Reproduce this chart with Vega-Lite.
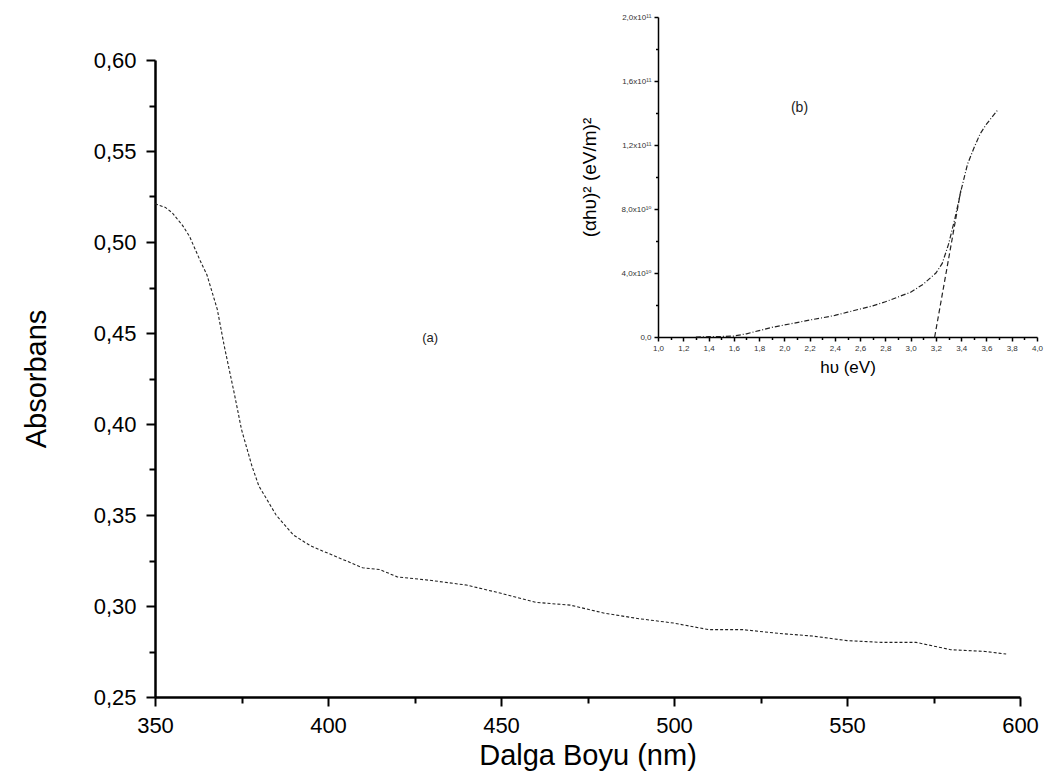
{
  "$schema": "https://vega.github.io/schema/vega-lite/v6.json",
  "width": 865,
  "height": 637,
  "autosize": {"type": "none"},
  "padding": {"left": 155, "top": 60, "right": 27, "bottom": 83},
  "background": "white",
  "config": {
    "view": {"stroke": null},
    "font": "Liberation Sans, DejaVu Sans, Arial",
    "axis": {"grid": false, "domainColor": "black", "tickColor": "black", "labelColor": "black", "titleColor": "black", "titleFontWeight": "normal", "labelFont": "Liberation Sans, DejaVu Sans", "titleFont": "Liberation Sans, DejaVu Sans"}
  },
  "datasets": {
    "main": [
      {"nm": 350, "A": 0.521}, {"nm": 353, "A": 0.519}, {"nm": 355, "A": 0.516}, {"nm": 358, "A": 0.509},
      {"nm": 360, "A": 0.503}, {"nm": 363, "A": 0.490}, {"nm": 365, "A": 0.482}, {"nm": 368, "A": 0.463},
      {"nm": 370, "A": 0.443}, {"nm": 373, "A": 0.416}, {"nm": 375, "A": 0.397}, {"nm": 378, "A": 0.377},
      {"nm": 380, "A": 0.366}, {"nm": 385, "A": 0.350}, {"nm": 390, "A": 0.339}, {"nm": 395, "A": 0.333},
      {"nm": 400, "A": 0.329}, {"nm": 405, "A": 0.325}, {"nm": 410, "A": 0.321}, {"nm": 415, "A": 0.320},
      {"nm": 420, "A": 0.316}, {"nm": 425, "A": 0.315}, {"nm": 430, "A": 0.314}, {"nm": 440, "A": 0.3115},
      {"nm": 450, "A": 0.307}, {"nm": 460, "A": 0.302}, {"nm": 470, "A": 0.3005}, {"nm": 480, "A": 0.296},
      {"nm": 490, "A": 0.293}, {"nm": 500, "A": 0.2906}, {"nm": 510, "A": 0.287}, {"nm": 520, "A": 0.287},
      {"nm": 530, "A": 0.285}, {"nm": 540, "A": 0.2835}, {"nm": 550, "A": 0.281}, {"nm": 560, "A": 0.280},
      {"nm": 570, "A": 0.280}, {"nm": 580, "A": 0.276}, {"nm": 590, "A": 0.275}, {"nm": 596, "A": 0.2736}
    ],
    "inset": [
      {"E": 1.30, "V": 0.0}, {"E": 1.40, "V": 0.002}, {"E": 1.50, "V": 0.003}, {"E": 1.60, "V": 0.006},
      {"E": 1.70, "V": 0.02}, {"E": 1.80, "V": 0.04}, {"E": 1.90, "V": 0.06}, {"E": 2.00, "V": 0.075},
      {"E": 2.10, "V": 0.09}, {"E": 2.20, "V": 0.106}, {"E": 2.30, "V": 0.12}, {"E": 2.40, "V": 0.135},
      {"E": 2.50, "V": 0.155}, {"E": 2.60, "V": 0.175}, {"E": 2.70, "V": 0.195}, {"E": 2.80, "V": 0.22},
      {"E": 2.90, "V": 0.25}, {"E": 3.00, "V": 0.28}, {"E": 3.10, "V": 0.33}, {"E": 3.20, "V": 0.40},
      {"E": 3.25, "V": 0.46}, {"E": 3.30, "V": 0.58}, {"E": 3.35, "V": 0.74}, {"E": 3.40, "V": 0.92},
      {"E": 3.45, "V": 1.08}, {"E": 3.50, "V": 1.18}, {"E": 3.55, "V": 1.27}, {"E": 3.60, "V": 1.33},
      {"E": 3.65, "V": 1.38}, {"E": 3.69, "V": 1.42}
    ],
    "tangent": [{"E": 3.19, "V": 0.0}, {"E": 3.40, "V": 0.93}],
    "labelA": [{"nm": 429.5, "A": 0.447, "t": "(a)"}],
    "labelB": [{"E": 2.12, "V": 1.43, "t": "(b)"}]
  },
  "resolve": {
    "scale": {"x": "independent", "y": "independent"},
    "axis": {"x": "independent", "y": "independent"}
  },
  "layer": [
    {
      "data": {"name": "main"},
      "mark": {"type": "line", "color": "#222", "strokeWidth": 1.1, "strokeDash": [3, 2]},
      "encoding": {
        "x": {"field": "nm", "type": "quantitative",
          "scale": {"domain": [350, 600], "range": [0, 865], "nice": false, "zero": false},
          "axis": {"orient": "bottom", "values": [350, 400, 450, 500, 550, 600], "title": "Dalga Boyu (nm)",
            "titleFontSize": 29, "titlePadding": 5, "labelFontSize": 22, "labelPadding": 9, "tickSize": 9,
            "tickWidth": 2, "domainWidth": 2.5, "labelFlush": false}},
        "y": {"field": "A", "type": "quantitative",
          "scale": {"domain": [0.25, 0.6], "range": [637, 0], "nice": false, "zero": false},
          "axis": {"orient": "left", "values": [0.25, 0.3, 0.35, 0.4, 0.45, 0.5, 0.55, 0.6], "title": "Absorbans",
            "labelExpr": "replace(format(datum.value, '.2f'), '.', ',')",
            "titleFontSize": 29, "titlePadding": 42, "labelFontSize": 22, "labelPadding": 10, "tickSize": 9,
            "tickWidth": 2, "domainWidth": 2.5, "labelFlush": false}}
      }
    },
    {
      "data": {"name": "labelA"},
      "mark": {"type": "text", "fontSize": 13, "color": "#222"},
      "encoding": {
        "x": {"field": "nm", "type": "quantitative",
          "scale": {"domain": [350, 600], "range": [0, 865], "nice": false, "zero": false},
          "axis": {"orient": "bottom", "values": [375, 425, 475, 525, 575], "labels": false, "domain": false,
            "title": null, "tickSize": 6, "tickWidth": 2}},
        "y": {"field": "A", "type": "quantitative",
          "scale": {"domain": [0.25, 0.6], "range": [637, 0], "nice": false, "zero": false},
          "axis": {"orient": "left", "values": [0.275, 0.325, 0.375, 0.425, 0.475, 0.525, 0.575], "labels": false,
            "domain": false, "title": null, "tickSize": 6, "tickWidth": 2}},
        "text": {"field": "t"}
      }
    },
    {
      "data": {"name": "inset"},
      "mark": {"type": "line", "color": "#222", "strokeWidth": 1.2, "strokeDash": [5, 2, 1, 2]},
      "encoding": {
        "x": {"field": "E", "type": "quantitative",
          "scale": {"domain": [1, 4], "range": [503, 882], "nice": false, "zero": false},
          "axis": {"orient": "bottom", "offset": -360,
            "values": [1.0, 1.2, 1.4, 1.6, 1.8, 2.0, 2.2, 2.4, 2.6, 2.8, 3.0, 3.2, 3.4, 3.6, 3.8, 4.0],
            "labelExpr": "replace(format(datum.value, '.1f'), '.', ',')",
            "title": "hυ (eV)", "titleFontSize": 17, "titlePadding": 7,
            "labelFontSize": 8, "labelColor": "#333", "labelPadding": 3, "tickSize": 4, "tickWidth": 1.5,
            "domainWidth": 1.5, "labelFlush": false}},
        "y": {"field": "V", "type": "quantitative",
          "scale": {"domain": [0, 2], "range": [277, -43], "nice": false, "zero": false},
          "axis": {"orient": "left", "offset": -503, "values": [0, 0.4, 0.8, 1.2, 1.6, 2.0],
            "labelExpr": "datum.value == 0 ? '0,0' : (datum.value < 1 ? replace(format(datum.value * 10, '.1f'), '.', ',') + 'x10¹⁰' : replace(format(datum.value, '.1f'), '.', ',') + 'x10¹¹')",
            "title": "(αhυ)² (eV/m)²", "titleFontSize": 19, "titlePadding": 22,
            "labelFontSize": 8, "labelColor": "#333", "labelPadding": 3, "tickSize": 4, "tickWidth": 1.5,
            "domainWidth": 1.5, "labelFlush": false}}
      }
    },
    {
      "data": {"name": "tangent"},
      "mark": {"type": "line", "color": "#222", "strokeWidth": 1.2, "strokeDash": [5, 3]},
      "encoding": {
        "x": {"field": "E", "type": "quantitative",
          "scale": {"domain": [1, 4], "range": [503, 882], "nice": false, "zero": false}, "axis": null},
        "y": {"field": "V", "type": "quantitative",
          "scale": {"domain": [0, 2], "range": [277, -43], "nice": false, "zero": false}, "axis": null}
      }
    },
    {
      "data": {"name": "labelB"},
      "mark": {"type": "text", "fontSize": 14, "color": "#222"},
      "encoding": {
        "x": {"field": "E", "type": "quantitative",
          "scale": {"domain": [1, 4], "range": [503, 882], "nice": false, "zero": false},
          "axis": {"orient": "bottom", "offset": -360,
            "values": [1.1, 1.3, 1.5, 1.7, 1.9, 2.1, 2.3, 2.5, 2.7, 2.9, 3.1, 3.3, 3.5, 3.7, 3.9],
            "labels": false, "domain": false, "title": null, "tickSize": 2.5, "tickWidth": 1.5}},
        "y": {"field": "V", "type": "quantitative",
          "scale": {"domain": [0, 2], "range": [277, -43], "nice": false, "zero": false},
          "axis": {"orient": "left", "offset": -503, "values": [0.2, 0.6, 1.0, 1.4, 1.8],
            "labels": false, "domain": false, "title": null, "tickSize": 2.5, "tickWidth": 1.5}},
        "text": {"field": "t"}
      }
    }
  ]
}
